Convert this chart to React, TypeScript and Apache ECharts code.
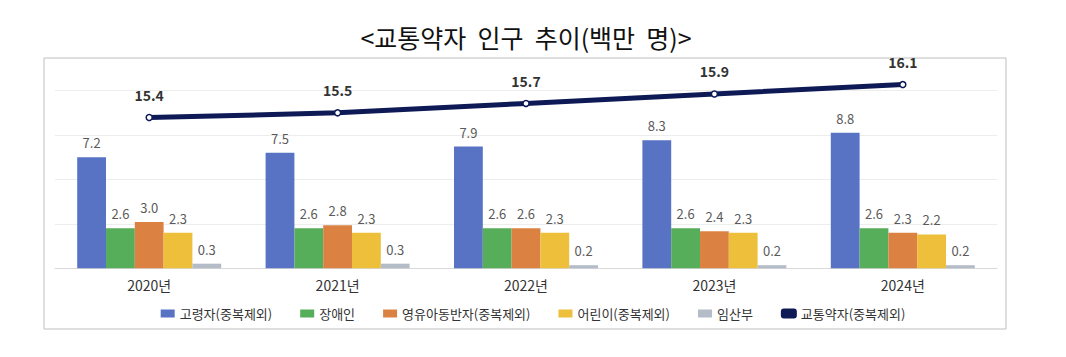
import React, { useEffect, useRef } from "react";
import * as echarts from "echarts";

const years = ["2020년", "2021년", "2022년", "2023년", "2024년"];
const elderly = [7.2, 7.5, 7.9, 8.3, 8.8];
const disabled = [2.6, 2.6, 2.6, 2.6, 2.6];
const infants = [3.0, 2.8, 2.6, 2.4, 2.3];
const children = [2.3, 2.3, 2.3, 2.3, 2.2];
const pregnant = [0.3, 0.3, 0.2, 0.2, 0.2];
const total = [15.4, 15.5, 15.7, 15.9, 16.1];

const seriesNames = [
  "고령자(중복제외)",
  "장애인",
  "영유아동반자(중복제외)",
  "어린이(중복제외)",
  "임산부",
  "교통약자(중복제외)",
];
const barColors = ["#5873C4", "#56AD5A", "#DB8243", "#EDBF3A", "#B4BCC8"];
const lineColor = "#0E1A55";
const FONT = "'Noto Sans CJK KR', 'Noto Sans', sans-serif";

export default function App() {
  const ref = useRef<HTMLDivElement>(null);
  useEffect(() => {
    if (!ref.current) return;
    const chart = echarts.init(ref.current, null, { renderer: "svg" });
    const barData = [elderly, disabled, infants, children, pregnant];
    const barSeries = barData.map((d, i) => ({
      name: seriesNames[i],
      type: "bar",
      data: d,
      yAxisIndex: 0,
      barWidth: 28.8,
      barGap: "0%",
      itemStyle: { color: barColors[i] },
      label: {
        show: true,
        position: "top",
        distance: 8,
        color: "#5A5A5A",
        fontSize: 13,
        fontFamily: FONT,
        formatter: (p: any) => p.value.toFixed(1),
      },
    }));
    chart.setOption({
      animation: false,
      textStyle: { fontFamily: FONT },
      title: {
        text: "<교통약자  인구  추이(백만  명)>",
        left: 521,
        textAlign: "center",
        top: 19,
        textStyle: { fontSize: 25, fontWeight: "normal", color: "#111", fontFamily: FONT },
      },
      graphic: [
        {
          type: "rect",
          shape: { x: 44, y: 58, width: 962, height: 271 },
          style: { fill: "none", stroke: "#BFBFBF", lineWidth: 1 },
          silent: true,
        },
      ],
      legend: {
        top: 302,
        left: "center",
        itemWidth: 14,
        itemHeight: 8,
        itemGap: 28,
        textStyle: { fontSize: 13, color: "#333", fontFamily: FONT },
        data: seriesNames.map((n, i) =>
          i < 5
            ? { name: n, icon: "rect" }
            : { name: n, icon: "roundRect", itemStyle: { color: lineColor, borderColor: lineColor } }
        ),
      },
      grid: { left: 55, right: 69, top: 90.7, bottom: 88.7, containLabel: false },
      xAxis: {
        type: "category",
        data: years,
        axisLine: { show: true, lineStyle: { color: "#D9D9D9" } },
        axisTick: { show: false },
        axisLabel: { color: "#333", fontSize: 14, margin: 10, fontFamily: FONT },
      },
      yAxis: [
        {
          type: "value",
          min: 0,
          max: 11.52,
          interval: 2.88,
          axisLabel: { show: false },
          axisLine: { show: false },
          axisTick: { show: false },
          splitLine: { show: true, lineStyle: { color: "#EDEDED" } },
        },
        {
          type: "value",
          min: 12.2,
          max: 15.97,
          axisLabel: { show: false },
          axisLine: { show: false },
          axisTick: { show: false },
          splitLine: { show: false },
        },
      ],
      series: [
        ...barSeries,
        {
          name: seriesNames[5],
          type: "line",
          yAxisIndex: 1,
          data: total,
          clip: false,
          z: 5,
          symbol: "circle",
          symbolSize: 6,
          lineStyle: { color: lineColor, width: 5 },
          itemStyle: { color: "#FFFFFF", borderColor: lineColor, borderWidth: 1.5 },
          label: {
            show: true,
            position: "top",
            distance: 12,
            color: "#333",
            fontSize: 14,
            fontWeight: "bold",
            fontFamily: FONT,
            formatter: (p: any) => p.value.toFixed(1),
          },
        },
      ],
    } as any);
    return () => chart.dispose();
  }, []);
  return (
    <div
      ref={ref}
      style={{ position: "fixed", left: 0, top: 0, width: 1066, height: 357, background: "#fff" }}
    />
  );
}
